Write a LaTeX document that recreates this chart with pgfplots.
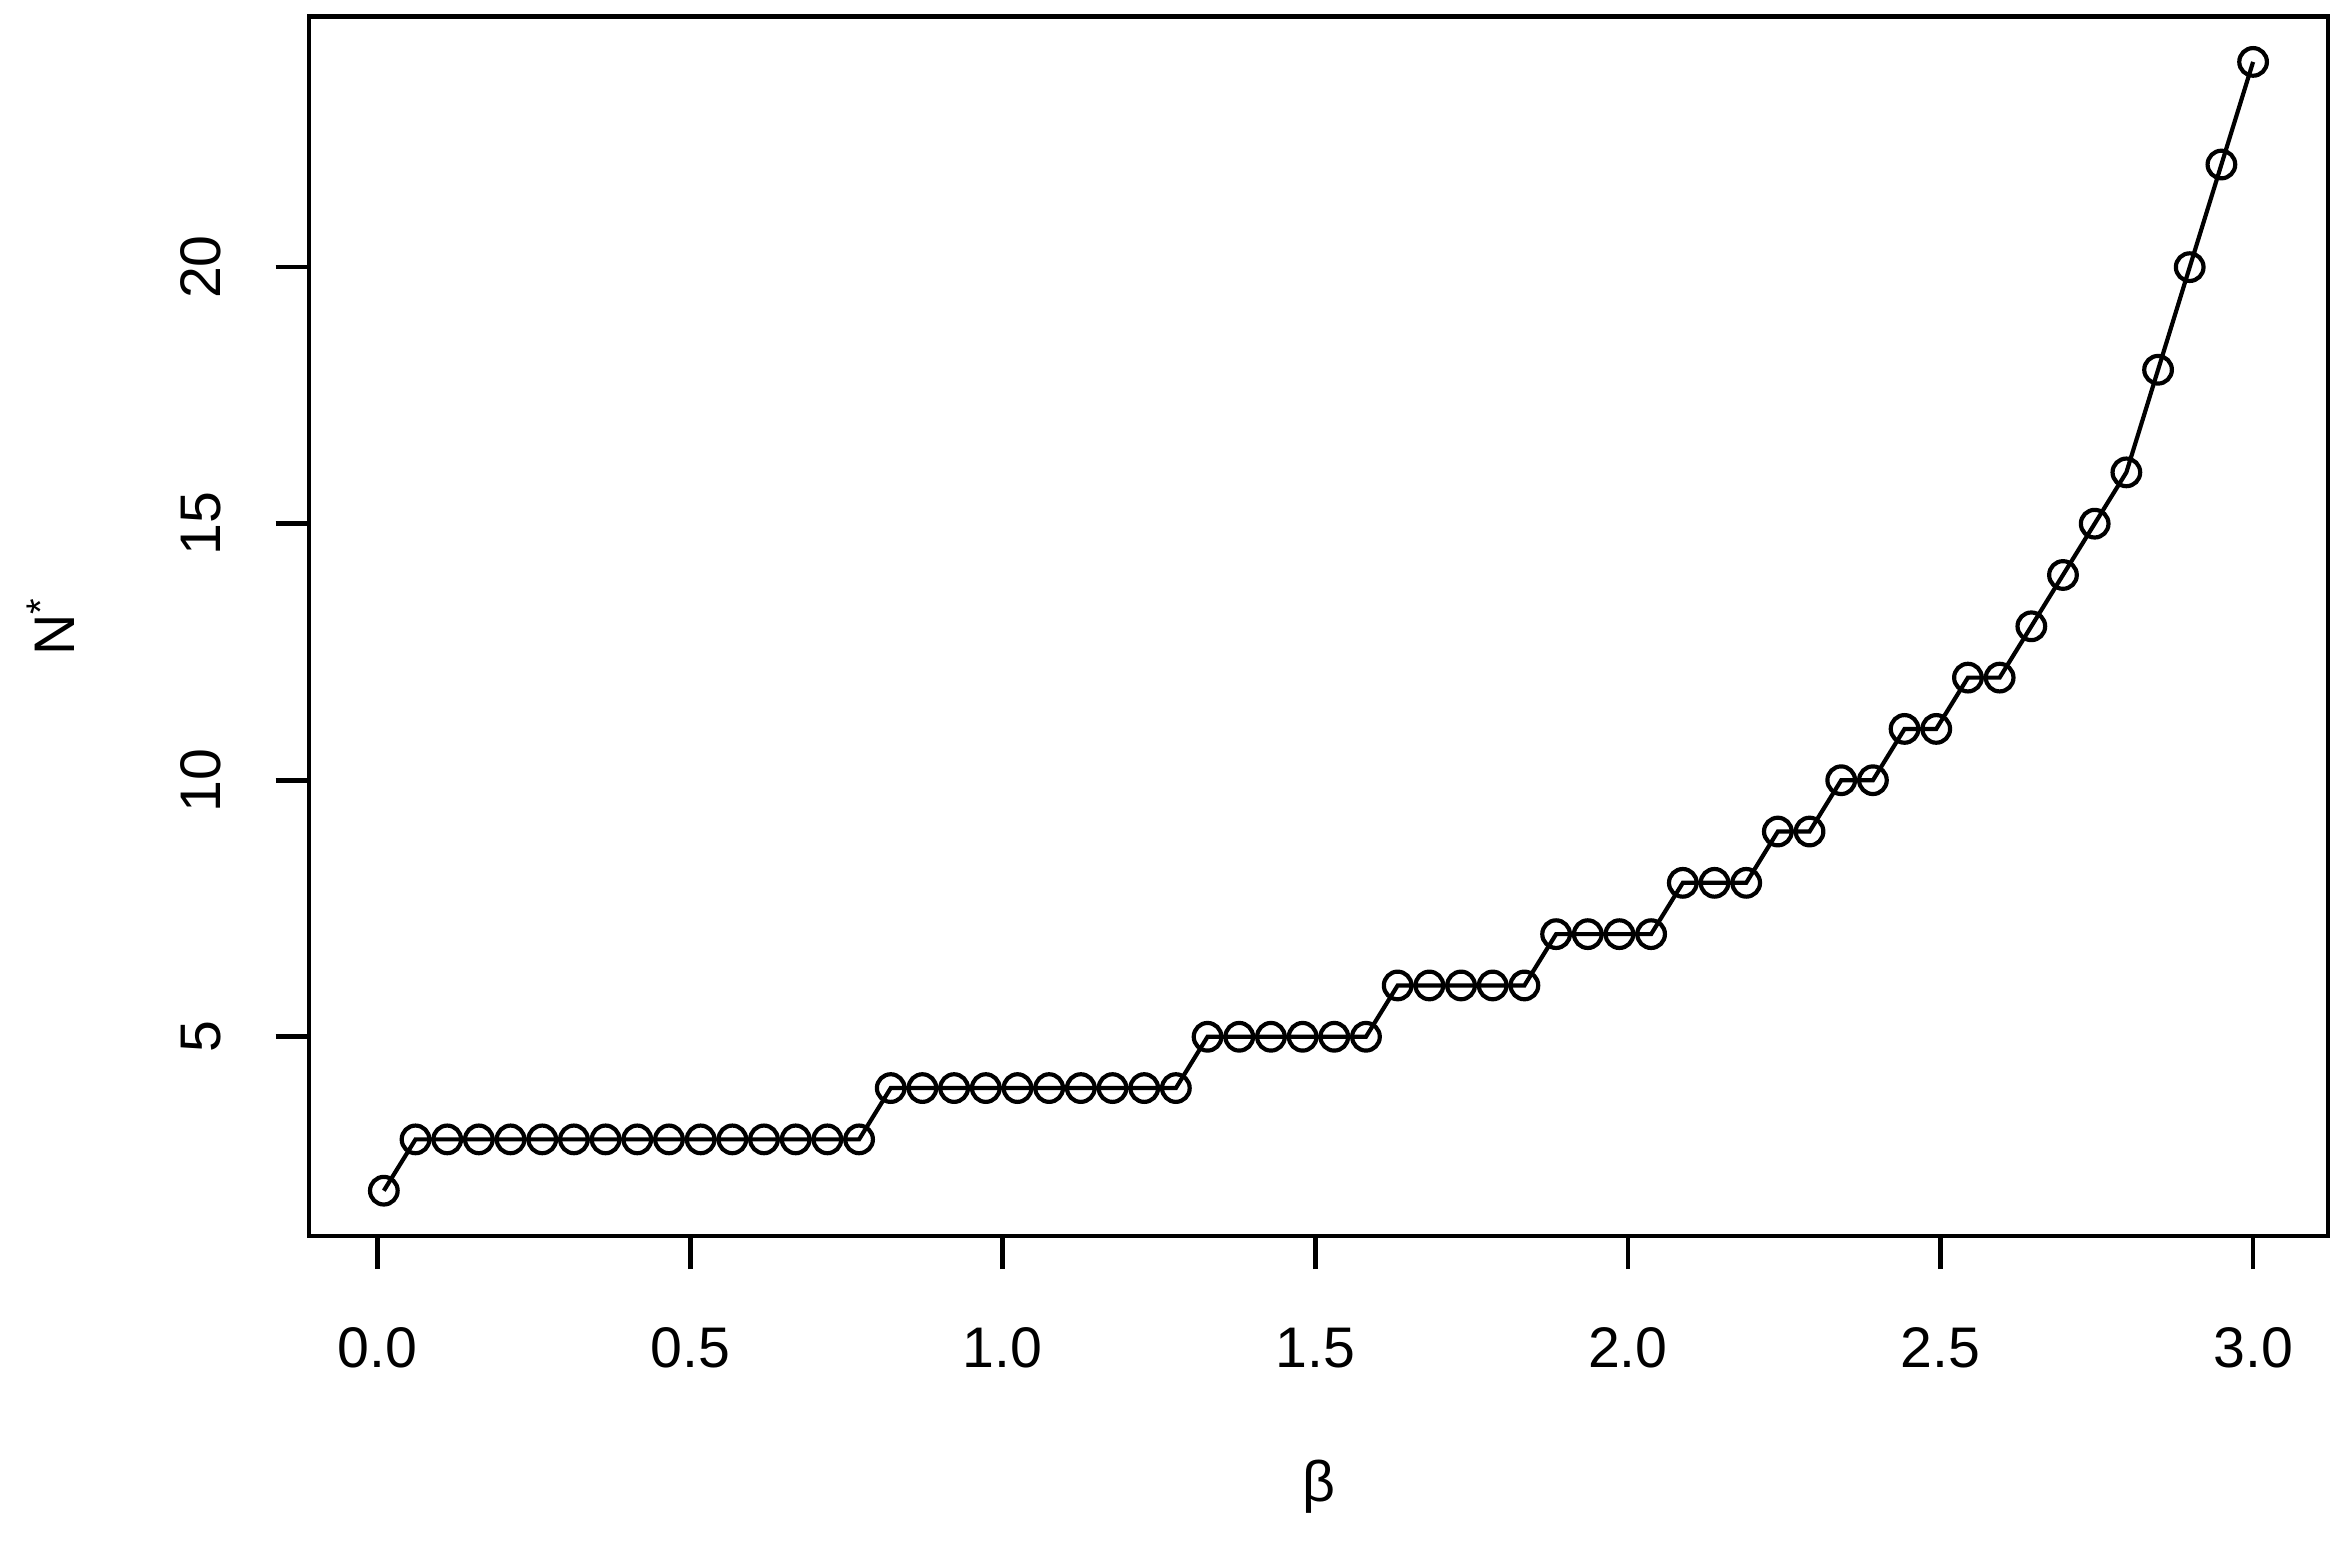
\documentclass[border=0pt]{standalone}
\usepackage{fontspec}
\setmainfont{Liberation Sans}
\usepackage{pgfplots}
\pgfplotsset{compat=1.18}
\newcommand{\lbl}{\fontsize{12.3bp}{14bp}\selectfont}
\begin{document}
\begin{tikzpicture}
\begin{axis}[
  scale only axis,
  width=433.7bp, height=261.9bp,
  xmin=-0.1096, xmax=3.1196,
  ymin=1.12, ymax=24.88,
  axis line style={line width=1bp},
  tick pos=left,
  tick align=outside,
  major tick length=7.2pt,
  tick style={line width=1bp, black},
  xtick={0,0.5,1,1.5,2,2.5,3},
  ytick={5,10,15,20},
  /pgf/number format/assume math mode=true,
  x tick label style={/pgf/number format/fixed, /pgf/number format/fixed zerofill, /pgf/number format/precision=1},
  tick label style={font=\lbl},
  xticklabel style={anchor=base, yshift=-21.1bp},
  yticklabel style={rotate=90, anchor=base, yshift=11.9bp},
  label style={font=\lbl},
  xlabel={β},
  ylabel={N\textsuperscript{*}},
  xlabel style={at={(axis description cs:0.5,0)}, anchor=base, yshift=-57bp},
  ylabel style={at={(axis description cs:0,0.5)}, anchor=base, yshift=50.3bp},
]
\addplot[black, line width=0.9bp, mark=o, mark size=2.97bp, mark options={line width=0.9bp}] coordinates {
(0.0100,2) (0.0607,3) (0.1114,3) (0.1620,3) (0.2127,3) (0.2634,3) (0.3141,3) (0.3647,3)
(0.4154,3) (0.4661,3) (0.5168,3) (0.5675,3) (0.6181,3) (0.6688,3) (0.7195,3) (0.7702,3)
(0.8208,4) (0.8715,4) (0.9222,4) (0.9729,4) (1.0236,4) (1.0742,4) (1.1249,4) (1.1756,4)
(1.2263,4) (1.2769,4)
(1.3276,5) (1.3783,5) (1.4290,5) (1.4797,5) (1.5303,5) (1.5810,5)
(1.6317,6) (1.6824,6) (1.7331,6) (1.7837,6) (1.8344,6)
(1.8851,7) (1.9358,7) (1.9864,7) (2.0371,7)
(2.0878,8) (2.1385,8) (2.1892,8)
(2.2398,9) (2.2905,9)
(2.3412,10) (2.3919,10)
(2.4425,11) (2.4932,11)
(2.5439,12) (2.5946,12)
(2.6453,13) (2.6959,14) (2.7466,15) (2.7973,16) (2.8480,18) (2.8986,20) (2.9493,22) (3.0000,24)
};
\coordinate (sw) at (rel axis cs:0,0);
\coordinate (ne) at (rel axis cs:1,1);
\end{axis}
\pgfresetboundingbox
\path ([xshift=-66.4bp,yshift=-66.4bp]sw) rectangle ([xshift=3.9bp,yshift=3.6bp]ne);
\end{tikzpicture}
\end{document}
